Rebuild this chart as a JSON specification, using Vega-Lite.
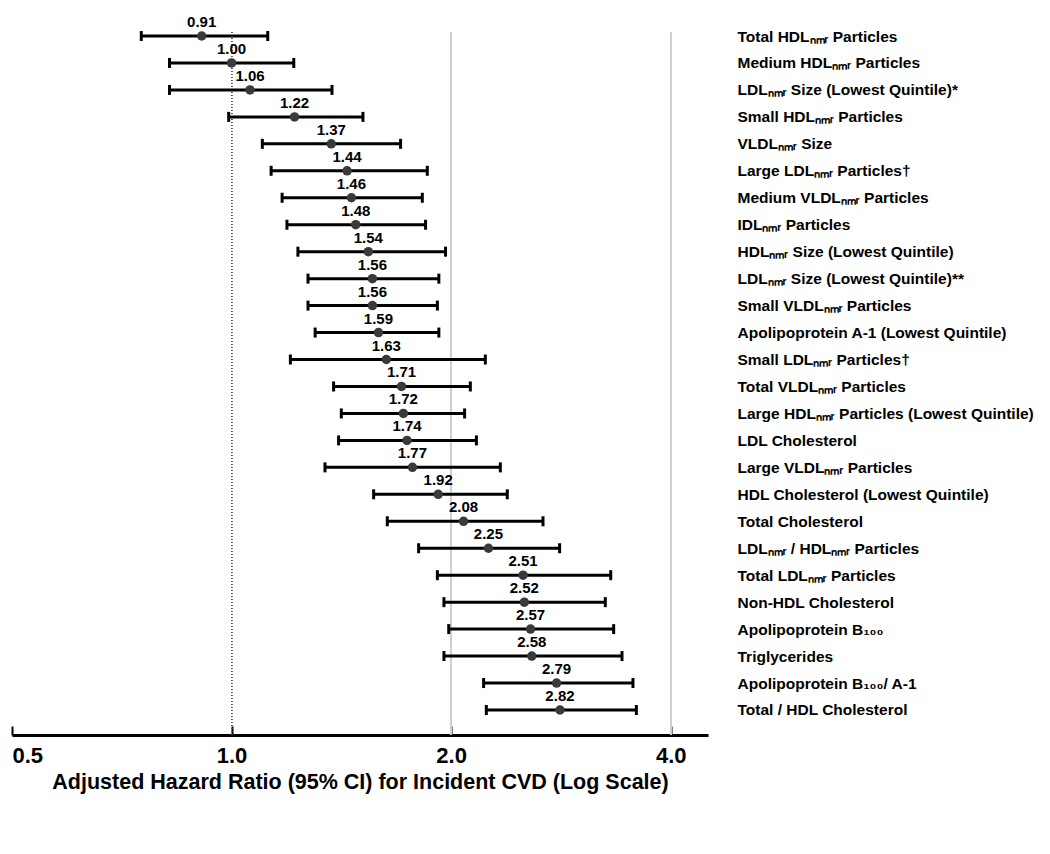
{
  "$schema": "https://vega.github.io/schema/vega-lite/v6.json",
  "autosize": {"type": "none"},
  "padding": {"left": 12, "top": 32, "right": 342, "bottom": 119},
  "width": 696,
  "height": 703,
  "background": "white",
  "config": {"view": {"stroke": null}, "font": "Liberation Sans"},
  "data": {"values": [
    {"label": "Total HDLₙₘᵣ Particles", "hr": 0.91, "lo": 0.752, "hi": 1.121},
    {"label": "Medium HDLₙₘᵣ Particles", "hr": 1.00, "lo": 0.822, "hi": 1.217},
    {"label": "LDLₙₘᵣ Size (Lowest Quintile)*", "hr": 1.06, "lo": 0.822, "hi": 1.373},
    {"label": "Small HDLₙₘᵣ Particles", "hr": 1.22, "lo": 0.991, "hi": 1.514},
    {"label": "VLDLₙₘᵣ Size", "hr": 1.37, "lo": 1.102, "hi": 1.705},
    {"label": "Large LDLₙₘᵣ Particles†", "hr": 1.44, "lo": 1.133, "hi": 1.855},
    {"label": "Medium VLDLₙₘᵣ Particles", "hr": 1.46, "lo": 1.173, "hi": 1.826},
    {"label": "IDLₙₘᵣ Particles", "hr": 1.48, "lo": 1.191, "hi": 1.845},
    {"label": "HDLₙₘᵣ Size (Lowest Quintile)", "hr": 1.54, "lo": 1.233, "hi": 1.965},
    {"label": "LDLₙₘᵣ Size (Lowest Quintile)**", "hr": 1.56, "lo": 1.273, "hi": 1.924},
    {"label": "Small VLDLₙₘᵣ Particles", "hr": 1.56, "lo": 1.273, "hi": 1.915},
    {"label": "Apolipoprotein A-1 (Lowest Quintile)", "hr": 1.59, "lo": 1.302, "hi": 1.924},
    {"label": "Small LDLₙₘᵣ Particles†", "hr": 1.63, "lo": 1.204, "hi": 2.228},
    {"label": "Total VLDLₙₘᵣ Particles", "hr": 1.71, "lo": 1.380, "hi": 2.125},
    {"label": "Large HDLₙₘᵣ Particles (Lowest Quintile)", "hr": 1.72, "lo": 1.414, "hi": 2.087},
    {"label": "LDL Cholesterol", "hr": 1.74, "lo": 1.402, "hi": 2.166},
    {"label": "Large VLDLₙₘᵣ Particles", "hr": 1.77, "lo": 1.343, "hi": 2.336},
    {"label": "HDL Cholesterol (Lowest Quintile)", "hr": 1.92, "lo": 1.566, "hi": 2.388},
    {"label": "Total Cholesterol", "hr": 2.08, "lo": 1.635, "hi": 2.673},
    {"label": "LDLₙₘᵣ / HDLₙₘᵣ Particles", "hr": 2.25, "lo": 1.805, "hi": 2.817},
    {"label": "Total LDLₙₘᵣ Particles", "hr": 2.51, "lo": 1.915, "hi": 3.310},
    {"label": "Non-HDL Cholesterol", "hr": 2.52, "lo": 1.955, "hi": 3.254},
    {"label": "Apolipoprotein B₁₀₀", "hr": 2.57, "lo": 1.985, "hi": 3.341},
    {"label": "Triglycerides", "hr": 2.58, "lo": 1.955, "hi": 3.430},
    {"label": "Apolipoprotein B₁₀₀/ A-1", "hr": 2.79, "lo": 2.216, "hi": 3.551},
    {"label": "Total / HDL Cholesterol", "hr": 2.82, "lo": 2.235, "hi": 3.589}
  ]},
  "encoding": {
    "y": {
      "field": "label", "type": "nominal", "sort": null,
      "scale": {"type": "point", "padding": 0.538, "align": 0.138},
      "axis": {
        "orient": "right", "title": null, "domain": false, "ticks": false, "tickSize": 0,
        "grid": false, "labelAlign": "left", "labelBaseline": "middle",
        "labelPadding": 29, "labelLimit": 0, "labelFontSize": 15.5,
        "labelFontWeight": "bold", "labelColor": "black", "labelFont": "Liberation Sans"
      }
    }
  },
  "layer": [
    {
      "mark": {"type": "rule", "stroke": "#cfcfcf", "strokeWidth": 1},
      "encoding": {"x": {"datum": 2, "type": "quantitative"}, "y": null}
    },
    {
      "mark": {"type": "rule", "stroke": "#cfcfcf", "strokeWidth": 1},
      "encoding": {"x": {"datum": 4, "type": "quantitative"}, "y": null}
    },
    {
      "mark": {"type": "rule", "stroke": "#555555", "strokeWidth": 1, "strokeDash": [1, 2]},
      "encoding": {"x": {"datum": 1, "type": "quantitative"}, "y": null}
    },
    {
      "mark": {"type": "rule", "stroke": "black", "strokeWidth": 3},
      "encoding": {
        "x": {
          "field": "lo", "type": "quantitative",
          "scale": {"type": "log", "domain": [0.5, 4.5], "nice": false, "zero": false},
          "axis": {
            "values": [0.5, 1, 2, 4], "format": ".1f",
            "title": "Adjusted Hazard Ratio (95% CI) for Incident CVD (Log Scale)",
            "titleFontSize": 21.5, "titleFontWeight": "bold", "titleColor": "black",
            "titleFont": "Liberation Sans", "titlePadding": 5,
            "labelFontSize": 22, "labelFontWeight": "bold", "labelColor": "black",
            "labelFont": "Liberation Sans", "labelFlush": true, "labelPadding": 19,
            "domainColor": "black", "domainWidth": 3,
            "tickColor": "black", "tickWidth": 2, "tickSize": -9,
            "grid": false
          }
        },
        "x2": {"field": "hi"}
      }
    },
    {
      "mark": {"type": "tick", "color": "black", "thickness": 3, "size": 10, "opacity": 1},
      "encoding": {"x": {"field": "lo", "type": "quantitative"}}
    },
    {
      "mark": {"type": "tick", "color": "black", "thickness": 3, "size": 10, "opacity": 1},
      "encoding": {"x": {"field": "hi", "type": "quantitative"}}
    },
    {
      "mark": {"type": "circle", "color": "#3a3a3a", "size": 90, "opacity": 1},
      "encoding": {"x": {"field": "hr", "type": "quantitative"}}
    },
    {
      "mark": {"type": "text", "fontSize": 15, "fontWeight": "bold", "color": "black", "baseline": "alphabetic", "dy": -9, "font": "Liberation Sans"},
      "encoding": {
        "x": {"field": "hr", "type": "quantitative"},
        "text": {"field": "hr", "type": "quantitative", "format": ".2f"}
      }
    }
  ]
}
